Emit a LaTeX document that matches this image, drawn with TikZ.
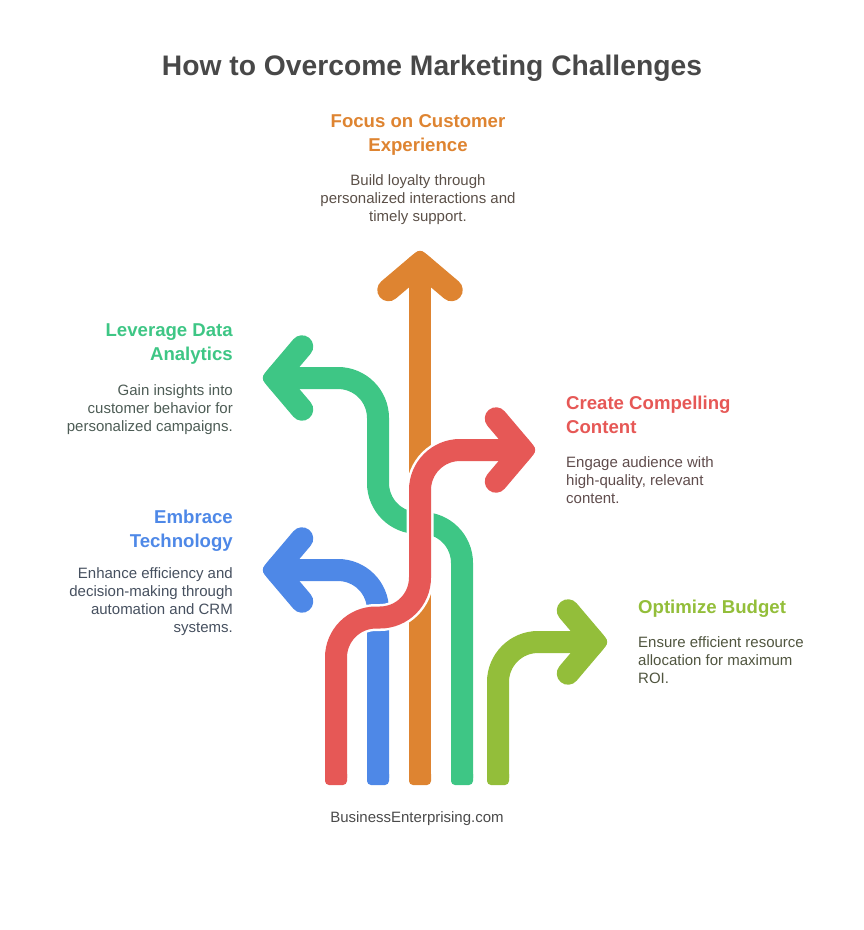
\documentclass[tikz,border=0pt]{standalone}
\usepackage{fontspec}
\setmainfont{Liberation Sans}
\usetikzlibrary{positioning}
\definecolor{orangeC}{HTML}{DE8431}
\definecolor{greenC}{HTML}{3EC685}
\definecolor{redC}{HTML}{E65856}
\definecolor{blueC}{HTML}{4E88E7}
\definecolor{oliveC}{HTML}{93BE3A}
\definecolor{titleC}{HTML}{484848}
\definecolor{orangeT}{HTML}{5B5048}
\definecolor{greenT}{HTML}{4D5C55}
\definecolor{redT}{HTML}{5F4C4C}
\definecolor{blueT}{HTML}{46505F}
\definecolor{oliveT}{HTML}{50553F}
\definecolor{siteT}{HTML}{4A4A4A}

\begin{document}
\begin{tikzpicture}[
        x=1pt, y=-1pt,
        shaft/.style={line width=22pt, rounded corners=40pt},
        foot/.style={rounded corners=4pt},
        head/.pic={
            \draw [line width=22.5pt, line cap=round, line join=round] (-31.5,28) -- (0,1.3) -- (31.5,28);
            \fill [rounded corners=6pt] (0,-13.5) -- (24,8) -- (-24,8) -- cycle;
        },
        heading/.style={font=\fontsize{18.6}{24}\selectfont\bfseries, inner sep=0pt},
        body/.style={font=\fontsize{15}{18}\selectfont, inner sep=0pt}
    ]
    \useasboundingbox (0,0) rectangle (864,930);

    % Arrows, red goes last
    \draw [shaft, orangeC] (420,778) -- (420,262);
    \pic [orangeC] at (420,262) {head};

    \draw [shaft, greenC] (462,778) -- (462,523) -- (378,523) -- (378,378) -- (274,378);
    \pic [greenC, rotate=90] at (274,378) {head};

    \draw [shaft, blueC] (378,778) -- (378,570) -- (274,570);
    \pic [blueC, rotate=90] at (274,570) {head};

    \draw [shaft, oliveC] (498,778) -- (498,642) -- (596,642);
    \pic [oliveC, rotate=-90] at (596,642) {head};

    \draw [shaft, white, line width=27pt] (336,778) -- (336,617.5) -- (420,617.5) -- (420,450) -- (510,450);
    \draw [shaft, redC] (336,778) -- (336,617.5) -- (420,617.5) -- (420,450) -- (524,450);
    \pic [redC, rotate=-90] at (524,450) {head};

    % Feet
    \foreach \x/\c in {336/redC, 378/blueC, 420/orangeC, 462/greenC, 498/oliveC}
        \fill [foot, \c] (\x-11,770) rectangle (\x+11,785);

    % Labels
    \node [font=\fontsize{28.25}{34}\selectfont\bfseries, text=titleC, inner sep=0pt] (title) at (432,68.5) {How to Overcome Marketing Challenges};

    \node [heading, text=orangeC, align=center] (focus) at (418,134.5) {Focus on Customer\\Experience};
    \node [body, text=orangeT, align=center, below=19.5pt of focus] (focustext) {Build loyalty through\\personalized interactions and\\timely support.};

    \node [heading, text=greenC, align=right, anchor=north east] (data) at (233,323.5) {Leverage Data\\Analytics};
    \node [body, text=greenT, align=right, below=19.5pt of data.south east, anchor=north east] (datatext) {Gain insights into\\customer behavior for\\personalized campaigns.};

    \node [heading, text=blueC, align=right, anchor=north east] (tech) at (233,509.5) {Embrace\\Technology};
    \node [body, text=blueT, align=right, below=16pt of tech.south east, anchor=north east] (techtext) {Enhance efficiency and\\decision-making through\\automation and CRM\\systems.};

    \node [heading, text=redC, align=left, anchor=north west] (content) at (566,395.5) {Create Compelling\\Content};
    \node [body, text=redT, align=left, below=22.5pt of content.south west, anchor=north west] (contenttext) {Engage audience with\\high-quality, relevant\\content.};

    \node [heading, text=oliveC, align=left, anchor=north west] (budget) at (638,600) {Optimize Budget};
    \node [body, text=oliveT, align=left, below=19pt of budget.south west, anchor=north west] (budgettext) {Ensure efficient resource\\allocation for maximum\\ROI.};

    \node [body, text=siteT] (site) at (417,819) {BusinessEnterprising.com};
\end{tikzpicture}
\end{document}
